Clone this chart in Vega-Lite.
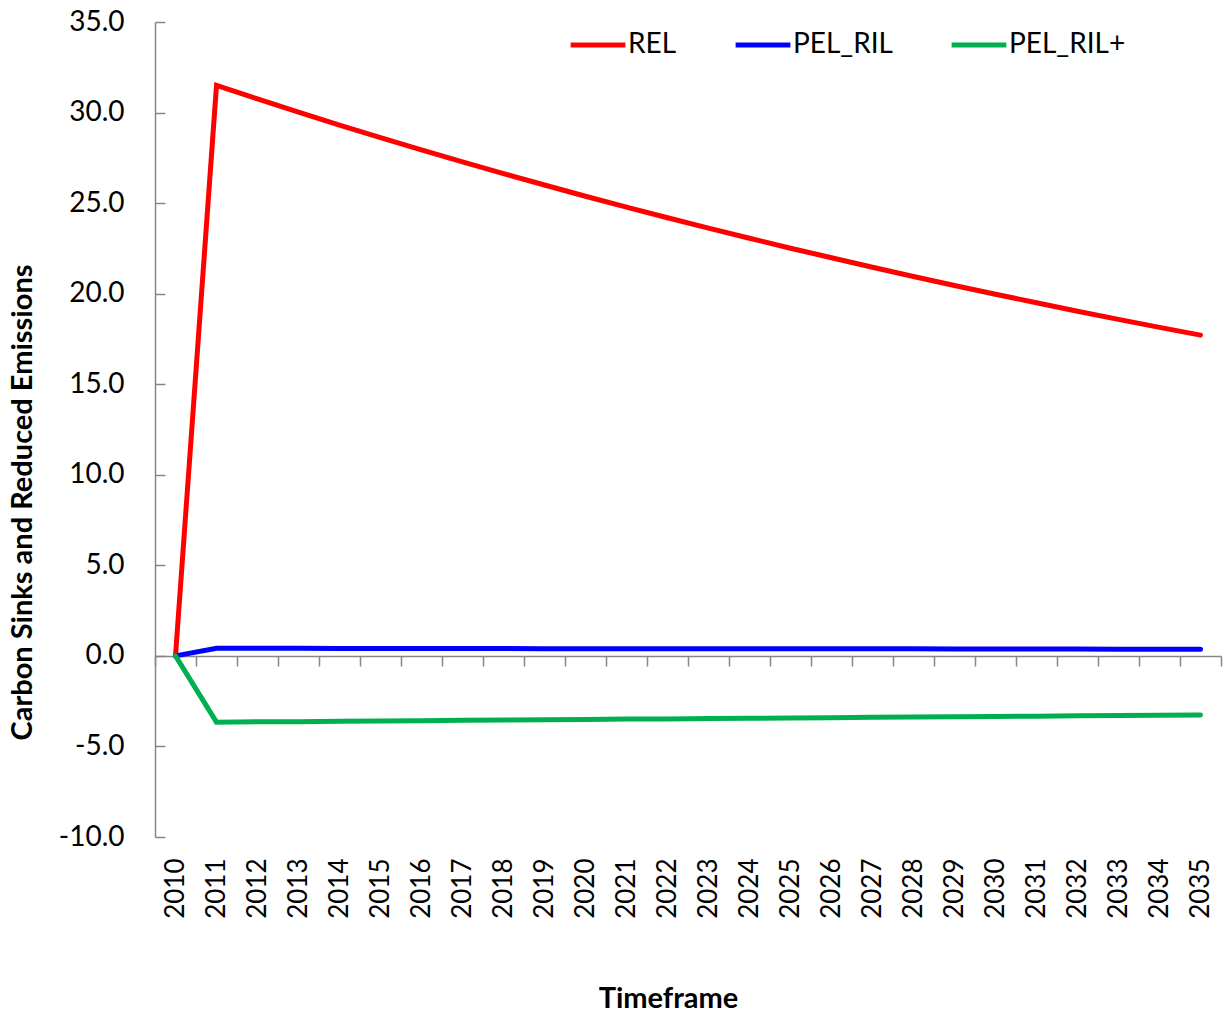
{
  "$schema": "https://vega.github.io/schema/vega-lite/v6.json",
  "width": 1066,
  "height": 815,
  "autosize": "none",
  "padding": {"left": 155, "top": 22, "right": 2, "bottom": 179},
  "background": "white",
  "config": {
    "view": {"stroke": null},
    "font": "Lato"
  },
  "data": {
    "values": [
      {"year": "2010", "series": "REL", "value": 0},
      {"year": "2011", "series": "REL", "value": 31.5},
      {"year": "2012", "series": "REL", "value": 30.75},
      {"year": "2013", "series": "REL", "value": 30.02},
      {"year": "2014", "series": "REL", "value": 29.31},
      {"year": "2015", "series": "REL", "value": 28.62},
      {"year": "2016", "series": "REL", "value": 27.94},
      {"year": "2017", "series": "REL", "value": 27.28},
      {"year": "2018", "series": "REL", "value": 26.63},
      {"year": "2019", "series": "REL", "value": 26.0},
      {"year": "2020", "series": "REL", "value": 25.38},
      {"year": "2021", "series": "REL", "value": 24.78},
      {"year": "2022", "series": "REL", "value": 24.19},
      {"year": "2023", "series": "REL", "value": 23.62},
      {"year": "2024", "series": "REL", "value": 23.06},
      {"year": "2025", "series": "REL", "value": 22.51},
      {"year": "2026", "series": "REL", "value": 21.98},
      {"year": "2027", "series": "REL", "value": 21.46},
      {"year": "2028", "series": "REL", "value": 20.95},
      {"year": "2029", "series": "REL", "value": 20.45},
      {"year": "2030", "series": "REL", "value": 19.97},
      {"year": "2031", "series": "REL", "value": 19.5},
      {"year": "2032", "series": "REL", "value": 19.03},
      {"year": "2033", "series": "REL", "value": 18.58},
      {"year": "2034", "series": "REL", "value": 18.14},
      {"year": "2035", "series": "REL", "value": 17.71},
      {"year": "2010", "series": "PEL_RIL", "value": 0},
      {"year": "2011", "series": "PEL_RIL", "value": 0.42},
      {"year": "2012", "series": "PEL_RIL", "value": 0.42},
      {"year": "2013", "series": "PEL_RIL", "value": 0.42},
      {"year": "2014", "series": "PEL_RIL", "value": 0.41},
      {"year": "2015", "series": "PEL_RIL", "value": 0.41},
      {"year": "2016", "series": "PEL_RIL", "value": 0.41},
      {"year": "2017", "series": "PEL_RIL", "value": 0.41},
      {"year": "2018", "series": "PEL_RIL", "value": 0.41},
      {"year": "2019", "series": "PEL_RIL", "value": 0.4},
      {"year": "2020", "series": "PEL_RIL", "value": 0.4},
      {"year": "2021", "series": "PEL_RIL", "value": 0.4},
      {"year": "2022", "series": "PEL_RIL", "value": 0.4},
      {"year": "2023", "series": "PEL_RIL", "value": 0.4},
      {"year": "2024", "series": "PEL_RIL", "value": 0.39},
      {"year": "2025", "series": "PEL_RIL", "value": 0.39},
      {"year": "2026", "series": "PEL_RIL", "value": 0.39},
      {"year": "2027", "series": "PEL_RIL", "value": 0.39},
      {"year": "2028", "series": "PEL_RIL", "value": 0.39},
      {"year": "2029", "series": "PEL_RIL", "value": 0.38},
      {"year": "2030", "series": "PEL_RIL", "value": 0.38},
      {"year": "2031", "series": "PEL_RIL", "value": 0.38},
      {"year": "2032", "series": "PEL_RIL", "value": 0.38},
      {"year": "2033", "series": "PEL_RIL", "value": 0.37},
      {"year": "2034", "series": "PEL_RIL", "value": 0.37},
      {"year": "2035", "series": "PEL_RIL", "value": 0.37},
      {"year": "2010", "series": "PEL_RIL+", "value": 0},
      {"year": "2011", "series": "PEL_RIL+", "value": -3.66},
      {"year": "2012", "series": "PEL_RIL+", "value": -3.64},
      {"year": "2013", "series": "PEL_RIL+", "value": -3.63},
      {"year": "2014", "series": "PEL_RIL+", "value": -3.61},
      {"year": "2015", "series": "PEL_RIL+", "value": -3.59},
      {"year": "2016", "series": "PEL_RIL+", "value": -3.58},
      {"year": "2017", "series": "PEL_RIL+", "value": -3.56},
      {"year": "2018", "series": "PEL_RIL+", "value": -3.54},
      {"year": "2019", "series": "PEL_RIL+", "value": -3.53},
      {"year": "2020", "series": "PEL_RIL+", "value": -3.51},
      {"year": "2021", "series": "PEL_RIL+", "value": -3.49},
      {"year": "2022", "series": "PEL_RIL+", "value": -3.48},
      {"year": "2023", "series": "PEL_RIL+", "value": -3.46},
      {"year": "2024", "series": "PEL_RIL+", "value": -3.44},
      {"year": "2025", "series": "PEL_RIL+", "value": -3.43},
      {"year": "2026", "series": "PEL_RIL+", "value": -3.41},
      {"year": "2027", "series": "PEL_RIL+", "value": -3.39},
      {"year": "2028", "series": "PEL_RIL+", "value": -3.38},
      {"year": "2029", "series": "PEL_RIL+", "value": -3.36},
      {"year": "2030", "series": "PEL_RIL+", "value": -3.34},
      {"year": "2031", "series": "PEL_RIL+", "value": -3.33},
      {"year": "2032", "series": "PEL_RIL+", "value": -3.31},
      {"year": "2033", "series": "PEL_RIL+", "value": -3.29},
      {"year": "2034", "series": "PEL_RIL+", "value": -3.28},
      {"year": "2035", "series": "PEL_RIL+", "value": -3.26}
    ]
  },
  "layer": [
    {
      "mark": {"type": "rule", "opacity": 0},
      "encoding": {
        "x": {
          "field": "year",
          "type": "ordinal",
          "scale": {"type": "band", "paddingInner": 0, "paddingOuter": 0},
          "axis": {
            "orient": "bottom",
            "offset": -181,
            "title": null,
            "labels": false,
            "domainColor": "#868686",
            "domainWidth": 1.5,
            "tickColor": "#868686",
            "tickWidth": 1.5,
            "tickSize": 10,
            "tickBand": "extent"
          }
        },
        "y": {"field": "value", "type": "quantitative"}
      }
    },
    {
      "mark": {"type": "line", "strokeWidth": 5, "strokeCap": "round", "strokeJoin": "miter"},
      "encoding": {
        "x": {
          "field": "year",
          "type": "ordinal",
          "scale": {"type": "band", "paddingInner": 0, "paddingOuter": 0},
          "axis": {
            "orient": "bottom",
            "title": "Timeframe",
            "titleFont": "Lato",
            "titleFontSize": 29,
            "titleFontWeight": "bold",
            "titleColor": "black",
            "titleX": 513,
            "titleY": 161,
            "titleBaseline": "middle",
            "domain": false,
            "ticks": false,
            "labelAngle": -90,
            "labelAlign": "right",
            "labelBaseline": "middle",
            "labelPadding": 21,
            "labelFont": "Lato",
            "labelFontSize": 26,
            "labelColor": "black"
          }
        },
        "y": {
          "field": "value",
          "type": "quantitative",
          "scale": {"domain": [-10, 35], "nice": false, "zero": false},
          "axis": {
            "values": [-10, -5, 0, 5, 10, 15, 20, 25, 30, 35],
            "format": ".1f",
            "labelExpr": "replace(datum.label, '\u2212', '-')",
            "grid": false,
            "title": "Carbon Sinks and Reduced Emissions",
            "titleFont": "Lato",
            "titleFontSize": 29,
            "titleFontWeight": "bold",
            "titleColor": "black",
            "titleAngle": -90,
            "titleX": -133,
            "titleY": 480,
            "titleAlign": "center",
            "titleBaseline": "middle",
            "domainColor": "#868686",
            "domainWidth": 1.5,
            "tickColor": "#868686",
            "tickWidth": 1.5,
            "tickSize": -10,
            "labelPadding": 41,
            "labelFont": "Lato",
            "labelFontSize": 28,
            "labelColor": "black"
          }
        },
        "color": {
          "field": "series",
          "type": "nominal",
          "sort": ["REL", "PEL_RIL", "PEL_RIL+"],
          "scale": {"domain": ["REL", "PEL_RIL", "PEL_RIL+"], "range": ["#FF0000", "#0000FF", "#00B050"]},
          "legend": {
            "title": null,
            "orient": "none",
            "direction": "horizontal",
            "legendX": 413,
            "legendY": -7,
            "symbolType": "stroke",
            "symbolSize": 3000,
            "symbolStrokeWidth": 5,
            "columnPadding": 48,
            "gridAlign": "none",
            "labelFont": "Lato",
            "labelFontSize": 28,
            "labelColor": "black",
            "labelOffset": 0
          }
        }
      }
    }
  ],
  "resolve": {"axis": {"x": "independent"}}
}
